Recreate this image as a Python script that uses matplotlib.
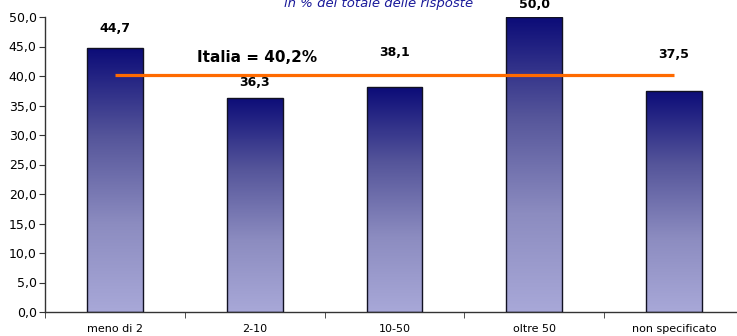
import numpy as np
import matplotlib
matplotlib.use("Agg")
import matplotlib.pyplot as plt
from matplotlib.colors import LinearSegmentedColormap

# Share of responses by class
categories = ["meno di 2", "2-10", "10-50", "oltre 50", "non specificato"]
values = [44.7, 36.3, 38.1, 50.0, 37.5]
italia = 40.2
label_offsets = [14, 11, 25, 9, 26]  # points above each bar top

plt.rcParams["font.family"] = ["DejaVu Sans"]

fig = plt.figure(figsize=(7.37, 3.36), dpi=100)
ax = fig.add_axes([45 / 737, 24 / 336, 699 / 737, 295 / 336])

cmap = LinearSegmentedColormap.from_list(
    "bar_grad", ["#a8a8d8", "#8c8cc0", "#55559a", "#0c0c78"])
grad = np.linspace(0, 1, 256).reshape(-1, 1)
width = 0.40

x = np.arange(len(categories))
bars = ax.bar(x, values, width=width, color="none", edgecolor="#111122",
              linewidth=1.0, zorder=3)
for rect in bars:
    x0, w, h = rect.get_x(), rect.get_width(), rect.get_height()
    im = ax.imshow(grad, cmap=cmap, aspect="auto", origin="lower",
                   extent=[x0, x0 + w, 0, h], zorder=2)
    im.set_clip_path(rect)

for xi, v, off in zip(x, values, label_offsets):
    ax.annotate(f"{v:.1f}".replace(".", ","), (xi, v), xytext=(0, off),
                textcoords="offset points", ha="center", va="center",
                fontsize=9, fontweight="bold", zorder=5, annotation_clip=False)

# national average line
ax.plot([x[0], x[-1]], [italia, italia], color="#ff6a00", linewidth=2.3,
        solid_capstyle="butt", zorder=4)
ax.text(1.02, 43.2, f"Italia = {italia:.1f}%".replace(".", ","), ha="center",
        va="center", fontsize=11, fontweight="bold", zorder=5)

ax.set_xlim(-0.5, len(categories) - 0.5)
ax.set_ylim(0, 50)
ax.set_yticks(np.arange(0, 50.1, 5))
ax.set_yticklabels([f"{t:.1f}".replace(".", ",") for t in np.arange(0, 50.1, 5)],
                   fontsize=9)
ax.set_xticks(x)
ax.set_xticklabels(categories, fontsize=8)
ax.set_xticks(np.arange(-0.5, len(categories), 1), minor=True)
ax.tick_params(axis="x", which="major", length=0, pad=9)
ax.tick_params(axis="x", which="minor", length=4, color="#333333")
ax.tick_params(axis="y", length=4, color="#333333", pad=2)

for side in ["top", "right"]:
    ax.spines[side].set_visible(False)
for side in ["left", "bottom"]:
    ax.spines[side].set_color("#333333")
    ax.spines[side].set_linewidth(1.0)

fig.text(379 / 737, 1 - 3 / 336, "in % del totale delle risposte", ha="center",
         va="center", fontsize=9.5, style="italic", color="#1a1a9a")

fig.savefig("out.png", dpi=100)
